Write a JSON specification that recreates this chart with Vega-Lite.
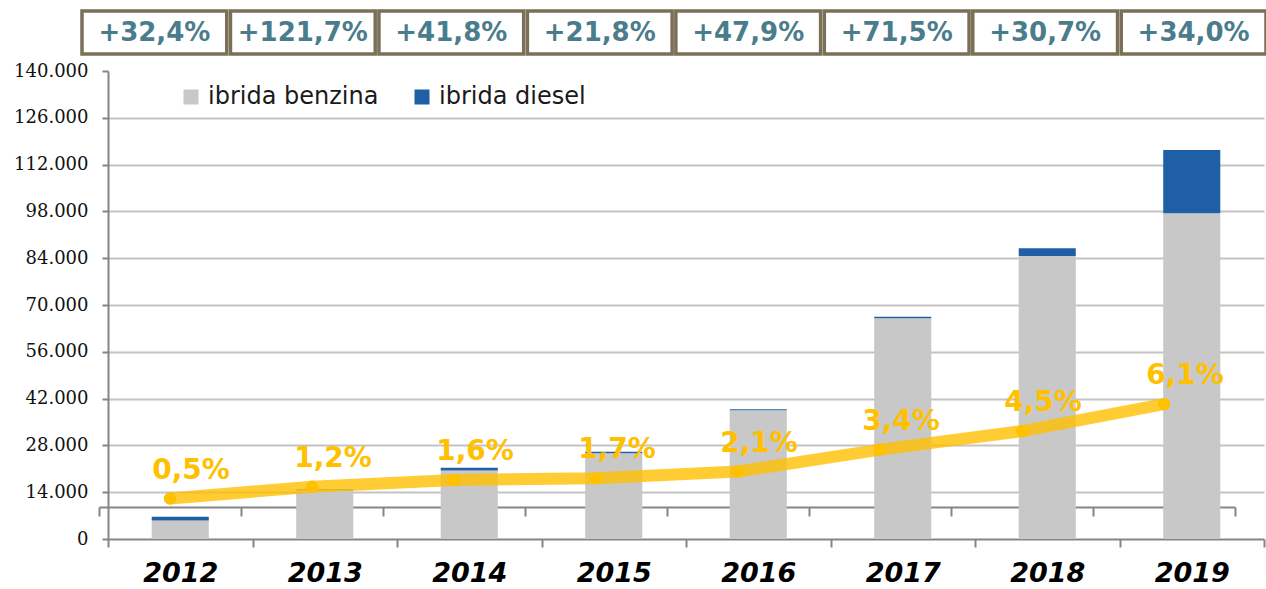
{
  "$schema": "https://vega.github.io/schema/vega-lite/v6.json",
  "width": 1156,
  "height": 468,
  "autosize": {"type": "none"},
  "padding": {"left": 108, "top": 71, "right": 2, "bottom": 50},
  "background": "white",
  "config": {
    "view": {"stroke": null},
    "font": "DejaVu Sans",
    "locale": {"number": {"decimal": ",", "thousands": ".", "grouping": [3], "currency": ["", " €"]}},
    "axis": {"domainColor": "#858585", "tickColor": "#858585", "domainWidth": 2, "tickWidth": 2}
  },
  "datasets": {
    "bars": [
      {"year": "2012", "type": "ibrida benzina", "value": 5500},
      {"year": "2012", "type": "ibrida diesel", "value": 1150},
      {"year": "2013", "type": "ibrida benzina", "value": 14550},
      {"year": "2013", "type": "ibrida diesel", "value": 320},
      {"year": "2014", "type": "ibrida benzina", "value": 20500},
      {"year": "2014", "type": "ibrida diesel", "value": 830},
      {"year": "2015", "type": "ibrida benzina", "value": 25650},
      {"year": "2015", "type": "ibrida diesel", "value": 450},
      {"year": "2016", "type": "ibrida benzina", "value": 38500},
      {"year": "2016", "type": "ibrida diesel", "value": 300},
      {"year": "2017", "type": "ibrida benzina", "value": 66050},
      {"year": "2017", "type": "ibrida diesel", "value": 450},
      {"year": "2018", "type": "ibrida benzina", "value": 84650},
      {"year": "2018", "type": "ibrida diesel", "value": 2300},
      {"year": "2019", "type": "ibrida benzina", "value": 97450},
      {"year": "2019", "type": "ibrida diesel", "value": 18950}
    ],
    "years": [
      {"year": "2012", "share": 0.005, "growth": 0.324},
      {"year": "2013", "share": 0.012, "growth": 1.217},
      {"year": "2014", "share": 0.016, "growth": 0.418},
      {"year": "2015", "share": 0.017, "growth": 0.218},
      {"year": "2016", "share": 0.021, "growth": 0.479},
      {"year": "2017", "share": 0.034, "growth": 0.715},
      {"year": "2018", "share": 0.045, "growth": 0.307},
      {"year": "2019", "share": 0.061, "growth": 0.340}
    ]
  },
  "layer": [
    {
      "data": {"name": "bars"},
      "mark": {"type": "bar", "width": {"band": 0.395}},
      "encoding": {
        "x": {
          "field": "year", "type": "ordinal",
          "scale": {"type": "band", "paddingInner": 0, "paddingOuter": 0},
          "axis": {"title": null, "labelAngle": 0, "tickBand": "extent", "tickSize": 8, "labelFont": "DejaVu Sans", "labelFontSize": 27, "labelFontWeight": "bold", "labelFontStyle": "italic", "labelColor": "#000000", "labelPadding": 13, "grid": false}
        },
        "y": {
          "field": "value", "type": "quantitative", "stack": "zero",
          "scale": {"domain": [0, 140000], "nice": false},
          "axis": {
            "title": null,
            "values": [0, 14000, 28000, 42000, 56000, 70000, 84000, 98000, 112000, 126000, 140000],
            "format": ",d",
            "labelFont": "DejaVu Serif", "labelFontSize": 18, "labelColor": "#111111",
            "tickSize": 6, "labelPadding": 14,
            "gridColor": "#C3C3C3", "gridWidth": 2,
            "gridOpacity": {"condition": {"test": "datum.value === 140000 || datum.value === 0", "value": 0}, "value": 1}
          }
        },
        "order": {"field": "type", "sort": "ascending"},
        "color": {
          "field": "type", "type": "nominal",
          "scale": {"domain": ["ibrida benzina", "ibrida diesel"], "range": ["#C8C8C8", "#1F5FA5"]},
          "legend": {"title": null, "orient": "none", "legendX": 71, "legendY": 14, "direction": "horizontal", "symbolType": "square", "symbolSize": 225, "symbolStrokeWidth": 0, "labelFont": "DejaVu Sans", "labelFontSize": 24, "labelColor": "#1A1A1A", "labelLimit": 400, "columnPadding": 31, "labelOffset": 5, "padding": 0}
        }
      }
    },
    {
      "data": {"name": "years"},
      "encoding": {
        "x": {
          "field": "year", "type": "ordinal",
          "scale": {"type": "band", "range": [-9, 1127], "paddingInner": 0, "paddingOuter": 0},
          "axis": {"orient": "bottom", "offset": -32, "labels": false, "title": null, "tickBand": "extent", "tickSize": 9, "grid": false}
        },
        "y": {
          "field": "share", "type": "quantitative",
          "scale": {"domain": [-0.019, 0.2585], "nice": false, "zero": false},
          "axis": null
        }
      },
      "layer": [
        {"mark": {"type": "line", "color": "#FFC000", "strokeWidth": 12, "opacity": 0.8, "strokeCap": "round", "strokeJoin": "round"}},
        {"mark": {"type": "circle", "color": "#FFC000", "size": 150, "opacity": 1}},
        {"mark": {"type": "text", "color": "#FFC000", "font": "DejaVu Sans", "fontSize": 28, "fontWeight": "bold", "dx": 21, "dy": -28}, "encoding": {"text": {"field": "share", "type": "quantitative", "format": ".1%"}}}
      ]
    },
    {
      "data": {"name": "years"},
      "encoding": {
        "x": {
          "field": "year", "type": "ordinal",
          "scale": {"type": "band", "range": [-26, 1158], "paddingInner": 0.025, "paddingOuter": 0},
          "axis": null
        }
      },
      "layer": [
        {
          "mark": {"type": "rect", "fill": "white", "stroke": "#7B6F57", "strokeWidth": 3.5},
          "encoding": {
            "y": {"datum": 1, "type": "quantitative", "scale": {"domain": [0, 1], "range": [-17, -60]}, "axis": null},
            "y2": {"datum": 0}
          }
        },
        {
          "mark": {"type": "text", "color": "#4B7C8C", "font": "DejaVu Sans", "fontSize": 26, "fontWeight": "bold"},
          "encoding": {
            "y": {"datum": 0.5, "type": "quantitative"},
            "text": {"field": "growth", "type": "quantitative", "format": "+.1%"}
          }
        }
      ]
    }
  ],
  "resolve": {
    "scale": {"x": "independent", "y": "independent"},
    "axis": {"x": "independent", "y": "independent"}
  }
}
